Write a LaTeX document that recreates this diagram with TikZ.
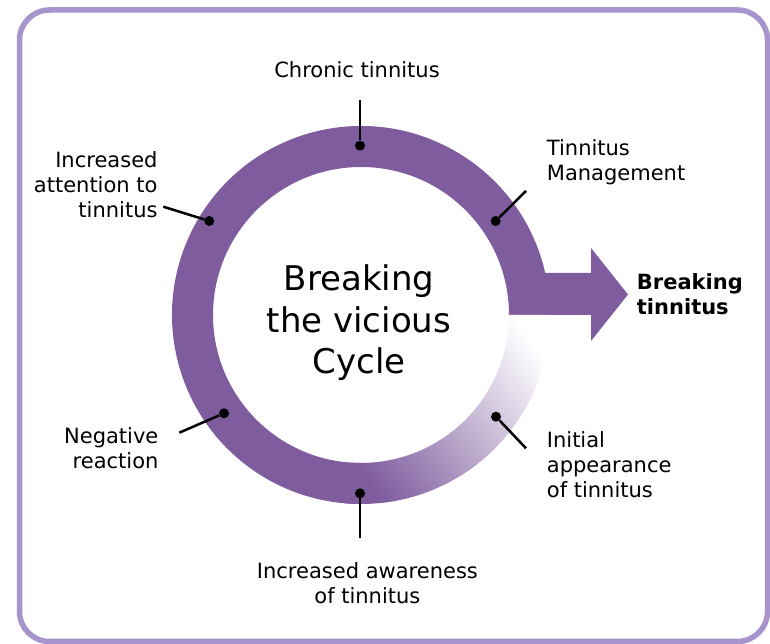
\documentclass[tikz,border=0pt]{standalone}
\usepackage{fontspec}
\setmainfont{DejaVu Sans}
\usetikzlibrary{calc}
\definecolor{ringpurple}{HTML}{7F5C9E}
\definecolor{framelilac}{HTML}{A794CD}
\tikzset{
  label text/.style={font=\fontsize{21}{25}\selectfont, inner sep=0pt},
  pin dot/.style={circle, fill=black, inner sep=0pt, minimum size=10pt},
  pin line/.style={line width=2.5pt},
}
\begin{document}
\begin{tikzpicture}[x=1pt,y=1pt]
  \useasboundingbox (0,0) rectangle (770,644);
  % frame
  \draw[framelilac, line width=5.5pt, rounded corners=30pt] (19.5,2.5) rectangle (767.5,634);

  % ring with the arrow out of it
  \coordinate (c) at (361,329);
  \fill[ringpurple] ($(c)+(12.84:189)$) arc[start angle=12.84, end angle=270, radius=189]
    -- ($(c)+(270:148)$) arc[start angle=270, end angle=0, radius=148]
    -- (591,329) -- (591,303) -- (628,349.5) -- (591,396) -- (591,371) -- cycle;

  % fading end of the ring
  \begin{scope}
    \clip ($(c)+(265:189)$) arc[start angle=265, end angle=360, radius=189]
      -- ($(c)+(0:148)$) arc[start angle=360, end angle=265, radius=148] -- cycle;
    \begin{scope}[rotate=37]
      \fill[ringpurple] (300,-400) rectangle (392,200);
      \foreach \s in {391,393,...,605} {
        \pgfmathsetmacro\p{max(0,(605-\s)/214*100)}
        \fill[ringpurple!\p!white] (\s,-400) rectangle (\s+2.6,200);
      }
      \fill[white] (606,-400) rectangle (700,200);
    \end{scope}
  \end{scope}

  % dots on the ring
  \node[pin dot] (chronic) at (360,498.3) {};
  \node[pin dot] (management) at (495.7,423) {};
  \node[pin dot] (initial) at (496,227.3) {};
  \node[pin dot] (awareness) at (360,150.7) {};
  \node[pin dot] (negative) at (224,230.7) {};
  \node[pin dot] (attention) at (209.3,423) {};

  % pin lines
  \coordinate (chronic end) at (360,544);
  \coordinate (management end) at (526,453);
  \coordinate (initial end) at (526,195.7);
  \coordinate (awareness end) at (360,105.7);
  \coordinate (negative end) at (179.3,211.3);
  \coordinate (attention end) at (163.3,437.3);
  \foreach \n in {chronic,management,initial,awareness,negative,attention}
    \draw[pin line] (\n) -- (\n\space end);

  % labels (base = baseline of the last line)
  \node[label text, anchor=base] (chronic text) at (357,566.7) {Chronic tinnitus};
  \node[label text, anchor=base west, align=left] (management text) at (546.7,463.3) {Tinnitus\\Management};
  \node[label text, anchor=base west, align=left] (initial text) at (546.7,146.3) {Initial\\appearance\\of tinnitus};
  \node[label text, anchor=base, align=center] (awareness text) at (367.4,40) {Increased awareness\\of tinnitus};
  \node[label text, anchor=base east, align=right] (negative text) at (158.6,175.7) {Negative\\reaction};
  \node[label text, anchor=base east, align=right] (attention text) at (157.7,426.3) {Increased\\attention to\\tinnitus};
  \node[label text, font=\fontsize{21}{24.3}\selectfont\bfseries, anchor=base west, align=left] (breaking text) at (636.7,329.7) {Breaking\\tinnitus};
  \node[inner sep=0pt, font=\fontsize{34}{41.5}\selectfont, anchor=base, align=center] (title) at (359,270) {Breaking\\the vicious\\Cycle};
\end{tikzpicture}
\end{document}
